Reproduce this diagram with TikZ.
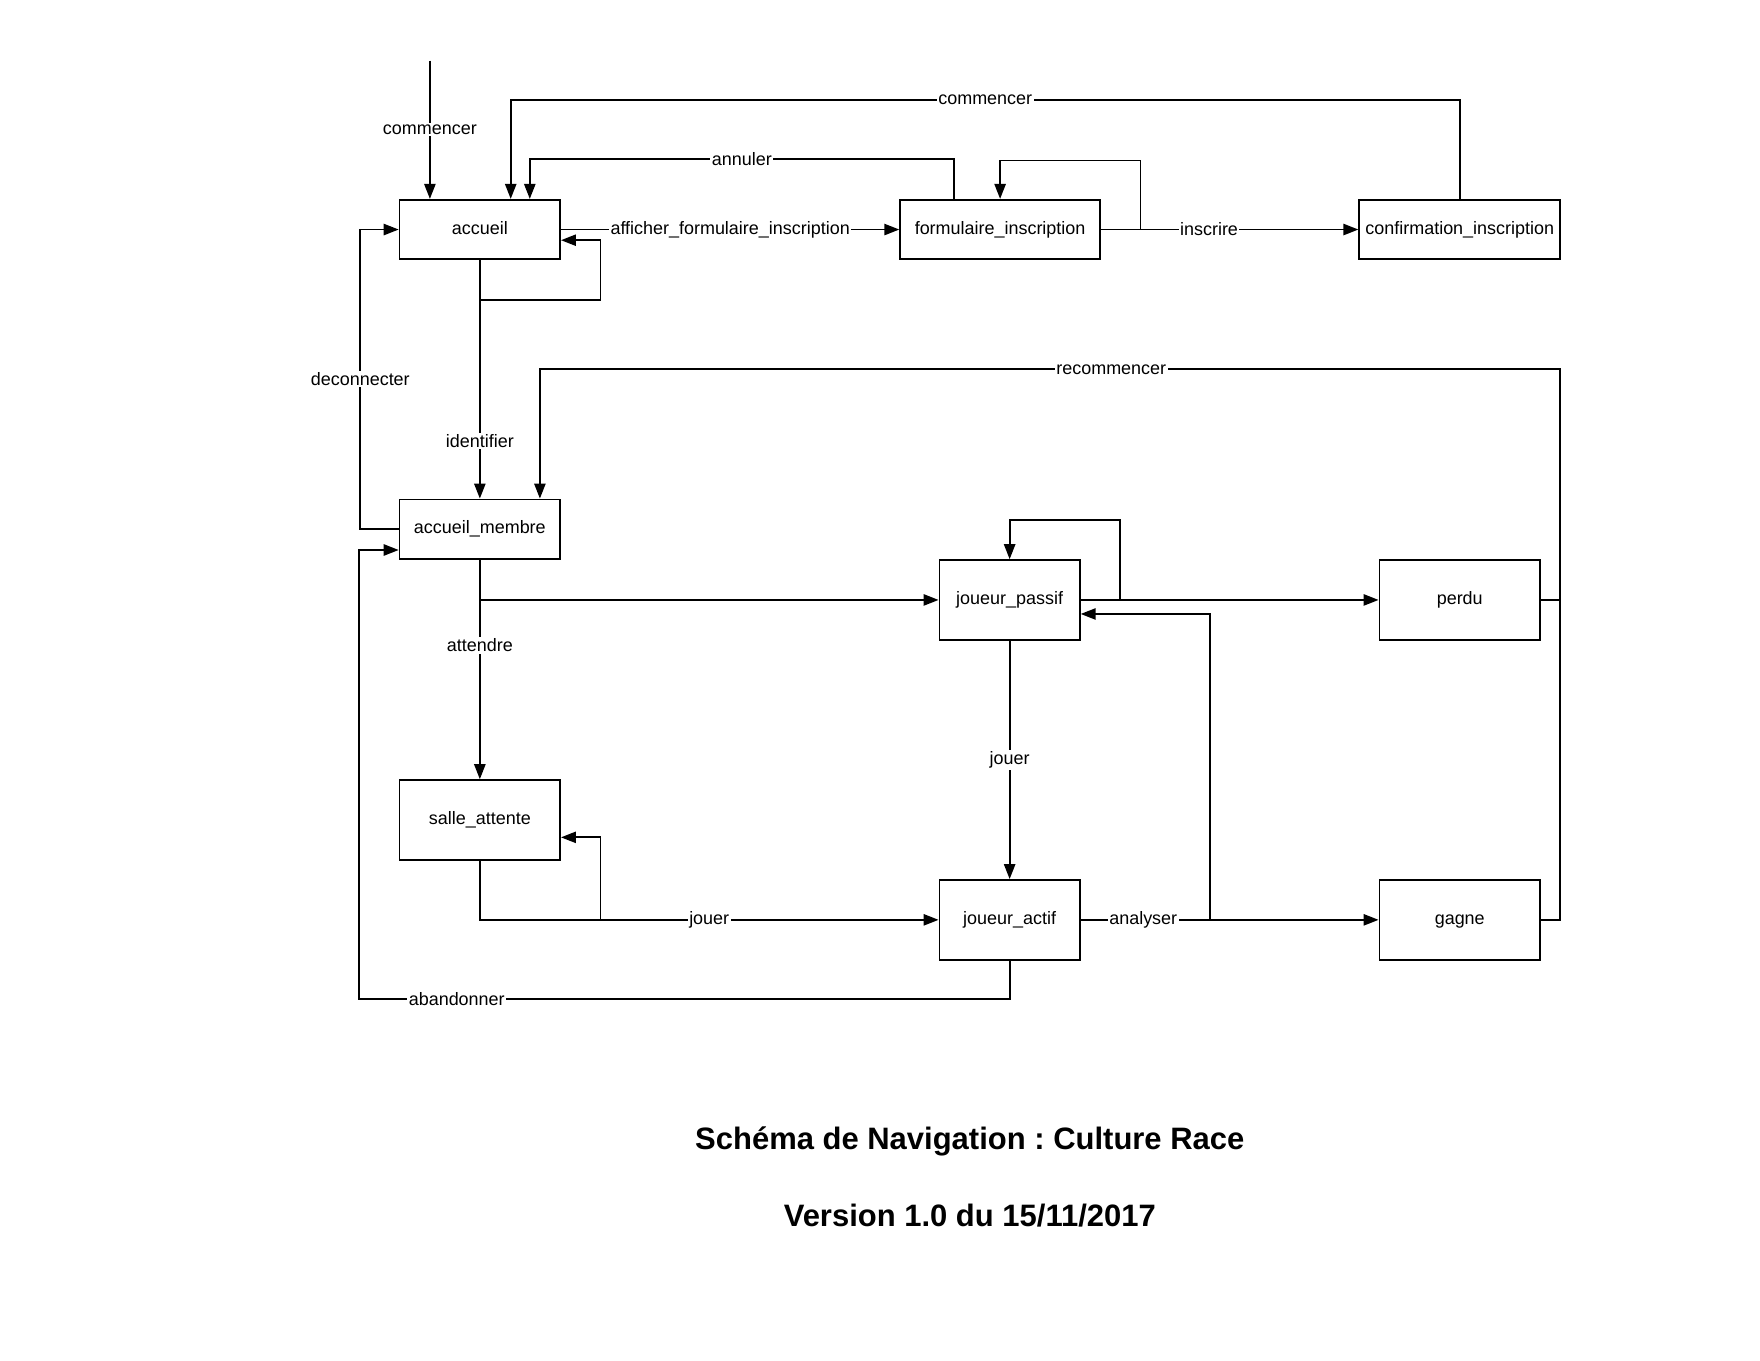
\documentclass[tikz,border=0pt]{standalone}
\usepackage{fontspec}
\setmainfont{Liberation Sans}
\usetikzlibrary{arrows.meta}
\frenchspacing

\begin{document}
\begin{tikzpicture}[x=0.75pt, y=-0.75pt,
    etat/.style={draw, line width=1.2pt, inner sep=0pt, text height=8.8pt, text depth=2.5pt, font=\fontsize{12}{14}\selectfont},
    plat/.style={etat, minimum height=39.75pt},
    haut/.style={etat, minimum height=53.25pt},
    lien/.style={line width=1.2pt},
    fleche/.style={lien, -{Triangle[length=10pt, width=7.5pt]}},
    lbl/.style={fill=white, inner sep=1pt, font=\fontsize{12}{14}\selectfont},
    titre/.style={font=\bfseries\fontsize{20.7}{24}\selectfont}]
      \useasboundingbox (0,0) rectangle (1568,1212);

      \node[plat, minimum width=107.25pt] (accueil) at (427.5, 204.5){accueil};
      \node[plat, minimum width=133.5pt] (form) at (891, 204.5){formulaire\_inscription};
      \node[plat, minimum width=134.25pt] (conf) at (1300.5, 204.5){confirmation\_inscription};
      \node[plat, minimum width=107.25pt] (membre) at (427.5, 471.5){accueil\_membre};
      \node[haut, minimum width=93.75pt] (passif) at (899.5, 534.5){joueur\_passif};
      \node[haut, minimum width=107.25pt] (perdu) at (1300.5, 534.5){perdu};
      \node[haut, minimum width=107.25pt] (salle) at (427.5, 730.5){salle\_attente};
      \node[haut, minimum width=93.75pt] (actif) at (899.5, 819.5){joueur\_actif};
      \node[haut, minimum width=107.25pt] (gagne) at (1300.5, 819.5){gagne};

      \coordinate (debut) at (383, 54);
      \coordinate (haut1) at (455, 89);
      \coordinate (haut2) at (472, 142);
      \coordinate (annul) at (850, 142);
      \coordinate (boucle1) at (535, 267);
      \coordinate (retour1) at (535, 214);
      \coordinate (deco) at (321, 336);
      \coordinate (boucle2) at (1016, 143);
      \coordinate (recom) at (1390, 329);
      \coordinate (recom2) at (481, 329);
      \coordinate (boucle3) at (535, 746);
      \coordinate (boucle4) at (998, 463);
      \coordinate (analyse) at (1078, 547);
      \coordinate (aband) at (320, 890);
      \coordinate (aband2) at (320, 490);

      \draw[fleche] (debut) -- node[lbl, pos=0.5]{commencer} (debut |- accueil.north);
      \draw[fleche] (conf.north) -- (conf.north |- haut1) -- node[lbl]{commencer} (haut1) -- (haut1 |- accueil.north);
      \draw[fleche] (annul |- form.north) -- (annul) -- node[lbl]{annuler} (haut2) -- (haut2 |- accueil.north);
      \draw[fleche] (accueil) -- node[lbl]{afficher\_formulaire\_inscription} (form);
      \draw[fleche] (accueil.south |- boucle1) -- (boucle1) -- (retour1) -- (retour1 -| accueil.east);
      \draw[fleche] (accueil) -- node[lbl, pos=0.76]{identifier} (membre);
      \draw[fleche] (membre.west) -- (membre.west -| deco) -- node[lbl]{deconnecter} (accueil.west -| deco) -- (accueil.west);

      \draw[fleche] (form.east -| boucle2) -- (boucle2) -| (form.north);
      \draw[fleche] (form) -- node[lbl, pos=0.42]{inscrire} (conf);

      \draw[lien] (perdu.east) -- (perdu.east -| recom);
      \draw[fleche] (gagne.east) -- (gagne.east -| recom) -- (recom) -- node[lbl, pos=0.44]{recommencer} (recom2) -- (recom2 |- membre.north);

      \draw[fleche] (membre) -- node[lbl, pos=0.39]{attendre} (salle);
      \draw[fleche] (membre.south |- passif.west) -- (passif.west);
      \draw[fleche] (salle.south) |- node[lbl, pos=0.75]{jouer} (actif.west);
      \draw[fleche] (boucle3 |- actif.west) -- (boucle3) -- (boucle3 -| salle.east);

      \draw[fleche] (passif) -- node[lbl]{jouer} (actif);
      \draw[fleche] (boucle4 |- passif.east) -- (boucle4) -| (passif.north);
      \draw[fleche] (passif) -- (perdu);
      \draw[fleche] (actif) -- node[lbl, pos=0.21]{analyser} (gagne);
      \draw[fleche] (analyse |- actif.east) -- (analyse) -- (analyse -| passif.east);
      \draw[fleche] (actif.south) -- (actif.south |- aband) -- node[lbl, pos=0.85]{abandonner} (aband) -- (aband2) -- (aband2 -| membre.west);

      \node[titre] (titre) at (864, 1017){Schéma de Navigation : Culture Race};
      \node[titre] (version) at (864, 1083){Version 1.0 du 15/11/2017};
    \end{tikzpicture}
\end{document}
